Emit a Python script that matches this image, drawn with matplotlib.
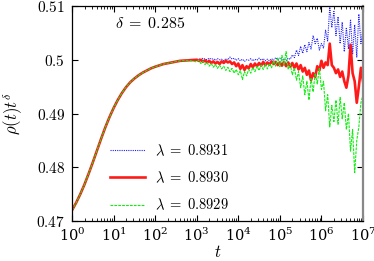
import numpy as np
import matplotlib
matplotlib.use('Agg')
import matplotlib.pyplot as plt
from matplotlib.ticker import FuncFormatter, LogLocator, NullFormatter

plt.rcParams['mathtext.fontset'] = 'cm'
plt.rcParams['font.family'] = ['DejaVu Serif']

# early-time part, shared by all three runs (log10 t, value)
common_logt = [0.0, 0.1, 0.2, 0.3, 0.4, 0.5, 0.6, 0.7, 0.8, 0.9, 1.0, 1.1, 1.2,
               1.3, 1.4, 1.5, 1.6, 1.7, 1.8, 1.9, 2.0, 2.2, 2.4, 2.6, 2.8]
common_val = [0.4720, 0.4734, 0.4750, 0.4768, 0.4788, 0.4809, 0.4831, 0.4853,
              0.4874, 0.4893, 0.4910, 0.4925, 0.4938, 0.4949, 0.4958, 0.4965,
              0.4971, 0.4976, 0.4980, 0.4984, 0.4987, 0.4992, 0.4995, 0.4998,
              0.4999]

# late-time part, log10 t from 3.0 to 7.0 in steps of 0.05
tail_logt = np.round(np.linspace(3.0, 7.0, 81), 2)

blue_tail = [0.5000, 0.5002, 0.4999, 0.5003, 0.5001, 0.5000, 0.5003, 0.5001, 0.5002, 0.4999,
             0.5002, 0.5000, 0.5001, 0.4998, 0.5002, 0.5000, 0.5005, 0.5001, 0.5003, 0.4999,
             0.5002, 0.4998, 0.5001, 0.4997, 0.5000, 0.4999, 0.5002, 0.4998, 0.5001, 0.4999,
             0.5003, 0.4999, 0.5002, 0.4998, 0.5001, 0.4998, 0.5002, 0.4999, 0.5004, 0.5000,
             0.5003, 0.4999, 0.5002, 0.4998, 0.5003, 0.5001, 0.5009, 0.5004, 0.5018, 0.5008,
             0.5025, 0.5012, 0.5028, 0.5015, 0.5032, 0.5020, 0.5045, 0.5030, 0.5040, 0.5018,
             0.5030, 0.5022, 0.5055, 0.5035, 0.5098, 0.5060, 0.5090, 0.5045, 0.5080, 0.5030,
             0.5070, 0.5015, 0.5060, 0.5020, 0.5075, 0.5010, 0.5065, 0.5005, 0.5085, 0.5030,
             0.5060]

red_tail = [0.5000, 0.4998, 0.5000, 0.4996, 0.4999, 0.4995, 0.4998, 0.4994, 0.4997, 0.4993,
            0.4996, 0.4992, 0.4997, 0.4994, 0.4998, 0.4995, 0.4997, 0.4992, 0.4995, 0.4988,
            0.4993, 0.4983, 0.4990, 0.4981, 0.4988, 0.4984, 0.4992, 0.4986, 0.4993, 0.4988,
            0.4994, 0.4989, 0.4996, 0.4990, 0.4995, 0.4991, 0.4997, 0.4992, 0.4996, 0.4990,
            0.4995, 0.4989, 0.4996, 0.4988, 0.4995, 0.4987, 0.4994, 0.4985, 0.4993, 0.4982,
            0.4990, 0.4978, 0.4985, 0.4972, 0.4980, 0.4962, 0.4975, 0.4968, 0.4988, 0.4980,
            0.4998, 0.4985, 0.4995, 0.4990, 0.5030, 0.4990, 0.4985, 0.4975, 0.4982, 0.4968,
            0.4978, 0.4960, 0.4948, 0.4970, 0.5028, 0.4975, 0.4960, 0.4920, 0.4950, 0.4985,
            0.4960]

green_tail = [0.4996, 0.4999, 0.4993, 0.4997, 0.4991, 0.4995, 0.4988, 0.4993, 0.4986, 0.4991,
              0.4984, 0.4990, 0.4983, 0.4988, 0.4980, 0.4986, 0.4978, 0.4984, 0.4975, 0.4982,
              0.4972, 0.4980, 0.4963, 0.4978, 0.4970, 0.4982, 0.4975, 0.4986, 0.4978, 0.4988,
              0.4980, 0.4990, 0.4982, 0.4992, 0.4983, 0.4993, 0.4985, 0.4998, 0.4988, 0.5004,
              0.4987, 0.5008, 0.4990, 0.5015, 0.4982, 0.4992, 0.4972, 0.4985, 0.4962, 0.4978,
              0.4948, 0.4970, 0.4935, 0.4960, 0.4925, 0.4965, 0.4940, 0.4975, 0.4955, 0.4985,
              0.4945, 0.4960, 0.4905, 0.4935, 0.4875, 0.4915, 0.4885, 0.4925, 0.4880, 0.4930,
              0.4890, 0.4920, 0.4870, 0.4900, 0.4830, 0.4870, 0.4790, 0.4850, 0.4875, 0.4920,
              0.4935]

labels = [r'$\lambda\;=\;0.8931$', r'$\lambda\;=\;0.8930$', r'$\lambda\;=\;0.8929$']
yticks = [0.47, 0.48, 0.49, 0.50, 0.51]

fig = plt.figure(figsize=(3.74, 2.61), dpi=100)
ax = fig.add_axes([72/374, 1 - 221/261, 291/374, 215/261])

logt_all = np.concatenate([common_logt, tail_logt])
t_all = 10.0 ** logt_all
blue = np.concatenate([common_val, blue_tail])
red = np.concatenate([common_val, red_tail])
green = np.concatenate([common_val, green_tail])

ax.plot(t_all, blue, color='#2020ff', lw=0.8, ls=(0, (1, 1)), label=labels[0])
ax.plot(t_all, red, color='#ff1a1a', lw=1.9, ls='-', label=labels[1])
ax.plot(t_all, green, color='#10ee10', lw=0.8, ls=(0, (2.5, 1)), label=labels[2])

ax.set_xscale('log')
ax.set_xlim(1, 1e7)
ax.set_ylim(0.47, 0.51)
ax.set_yticks(yticks)
ax.yaxis.set_major_formatter(FuncFormatter(lambda v, p: '$%g$' % round(v, 3)))
ax.xaxis.set_major_locator(LogLocator(base=10, numticks=10))
ax.xaxis.set_minor_locator(LogLocator(base=10, subs=np.arange(2, 10), numticks=20))
ax.xaxis.set_minor_formatter(NullFormatter())

ax.tick_params(which='both', direction='in', top=True, right=True, labelsize=11)
ax.tick_params(axis='x', labelsize=10.5, pad=4)
ax.tick_params(axis='y', pad=5)
ax.tick_params(which='major', length=4, width=0.8)
ax.tick_params(which='minor', length=2, width=0.6)

for s in ['top', 'bottom', 'left']:
    ax.spines[s].set_linewidth(0.9)
ax.spines['right'].set_color('#888888')
ax.spines['right'].set_linewidth(1.6)

ax.set_xlabel('$t$', fontsize=12, labelpad=0)
ax.set_ylabel(r'$\rho(t)t^{\delta}$', fontsize=12, labelpad=8)

ax.text(0.148, 0.92, r'$\delta\;=\;0.285$', transform=ax.transAxes, fontsize=11.5,
        va='center')

ax.legend(loc='lower left', bbox_to_anchor=(0.085, -0.022), frameon=False,
          fontsize=10.5, handlelength=2.4, handletextpad=0.7, labelspacing=0.8)

fig.savefig('out.png', dpi=100)
